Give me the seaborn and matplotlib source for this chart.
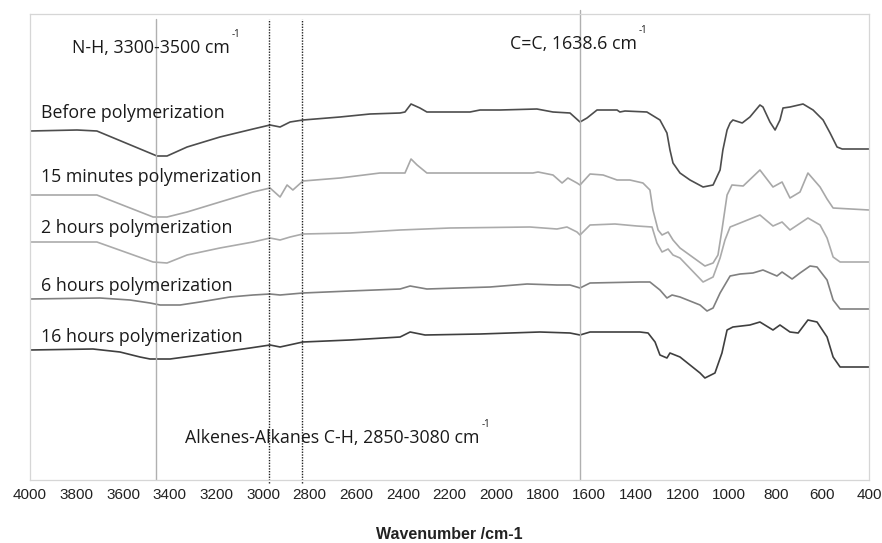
import matplotlib
matplotlib.use("Agg")
import matplotlib.pyplot as plt
import seaborn as sns
import pandas as pd

# ---------------- data ----------------
# wavenumber (cm-1) and offset transmittance (a.u.) for each spectrum
wn_before = [4000, 3798, 3713, 3455, 3412, 3326, 3185, 3043, 2970, 2927, 2884, 2829, 2670, 2541, 2412, 2391, 2365, 2327, 2297, 2112, 2069, 1983, 1825, 1756, 1683, 1640, 1610, 1567, 1481, 1469, 1447, 1353, 1297, 1267, 1254, 1241, 1211, 1168, 1112, 1069, 1039, 1027, 1009, 996, 984, 944, 911, 868, 855, 825, 803, 782, 769, 739, 683, 640, 597, 567, 537, 515, 400]
t_before = [349, 350, 349, 324, 324, 333, 343, 351, 355, 353, 358, 360, 363, 366, 367, 368, 376, 372, 368, 368, 370, 370, 371, 368, 367, 358, 362, 370, 370, 368, 369, 368, 360, 347, 330, 317, 307, 300, 293, 295, 310, 330, 350, 357, 360, 357, 363, 375, 373, 358, 350, 360, 372, 373, 376, 370, 360, 347, 333, 331, 331]

wn_15min = [4000, 3713, 3472, 3412, 3326, 3185, 3043, 2970, 2927, 2897, 2872, 2829, 2670, 2498, 2391, 2365, 2339, 2297, 1842, 1820, 1756, 1717, 1692, 1653, 1640, 1597, 1541, 1481, 1426, 1370, 1340, 1327, 1305, 1288, 1262, 1241, 1211, 1104, 1069, 1048, 1031, 1009, 988, 940, 868, 812, 773, 739, 696, 662, 610, 580, 554, 400]
t_15min = [285, 285, 263, 263, 268, 278, 288, 292, 283, 295, 290, 299, 302, 307, 307, 321, 315, 307, 307, 308, 305, 297, 302, 297, 295, 306, 305, 300, 300, 297, 290, 270, 250, 245, 248, 240, 232, 214, 217, 225, 250, 285, 295, 294, 310, 293, 298, 282, 288, 307, 293, 281, 272, 270]

wn_2h = [4000, 3713, 3472, 3412, 3326, 3185, 3043, 2970, 2927, 2884, 2829, 2627, 2412, 2198, 1855, 1739, 1696, 1653, 1640, 1597, 1490, 1396, 1331, 1310, 1288, 1262, 1241, 1211, 1112, 1069, 1039, 1018, 996, 953, 868, 812, 773, 739, 662, 610, 580, 554, 524, 400]
t_2h = [238, 238, 218, 217, 225, 232, 238, 242, 240, 243, 246, 247, 250, 252, 253, 251, 253, 248, 245, 255, 256, 254, 253, 237, 228, 231, 225, 222, 198, 203, 222, 240, 253, 257, 265, 254, 258, 250, 262, 255, 242, 223, 218, 218]

wn_6h = [4000, 3700, 3571, 3485, 3442, 3356, 3271, 3142, 3043, 2970, 2927, 2829, 2627, 2412, 2369, 2297, 2026, 1867, 1739, 1683, 1640, 1597, 1383, 1340, 1297, 1267, 1245, 1211, 1125, 1095, 1069, 1039, 996, 953, 898, 855, 795, 773, 730, 696, 653, 623, 580, 554, 524, 400]
t_6h = [181, 182, 180, 177, 175, 175, 178, 183, 185, 186, 185, 187, 189, 191, 194, 191, 193, 196, 195, 195, 192, 197, 198, 198, 190, 182, 185, 183, 175, 169, 172, 187, 204, 206, 207, 210, 204, 208, 201, 207, 214, 213, 200, 180, 171, 171]

wn_16h = [4000, 3730, 3614, 3528, 3485, 3399, 3271, 3056, 2970, 2927, 2829, 2627, 2412, 2369, 2305, 2069, 1812, 1683, 1640, 1597, 1383, 1348, 1318, 1297, 1267, 1254, 1211, 1125, 1104, 1061, 1031, 1009, 984, 911, 868, 812, 782, 739, 704, 662, 623, 580, 554, 524, 481, 400]
t_16h = [130, 131, 128, 123, 121, 121, 125, 132, 135, 133, 138, 140, 143, 148, 145, 146, 148, 147, 145, 148, 148, 147, 138, 125, 122, 127, 123, 107, 102, 107, 127, 150, 153, 155, 158, 150, 155, 148, 147, 160, 158, 143, 123, 113, 113, 113]

series_names = ["Before polymerization", "15 minutes polymerization",
                "2 hours polymerization", "6 hours polymerization",
                "16 hours polymerization"]
series_wn = [wn_before, wn_15min, wn_2h, wn_6h, wn_16h]
series_t = [t_before, t_15min, t_2h, t_6h, t_16h]
series_colors = ["#4d4d4d", "#a8a8a8", "#ababab", "#808080", "#3f3f3f"]
label_y = [362, 298, 247, 189, 138]

x_ticks = list(range(4000, 399, -200))
nh_line = 3460
cc_line = 1638.6
ch_lines = [2975, 2833]

# ---------------- figure ----------------
sns.set_style("white")
plt.rcParams["font.family"] = ["Open Sans", "DejaVu Sans"]

fig = plt.figure(figsize=(8.82, 5.43), dpi=100)
ax = fig.add_axes([30 / 882, 1 - 480 / 543, 839 / 882, 466 / 543])

frames = []
for name, w, t in zip(series_names, series_wn, series_t):
    frames.append(pd.DataFrame({"wn": w, "t": t, "series": name}))
df = pd.concat(frames, ignore_index=True)

sns.lineplot(data=df, x="wn", y="t", hue="series", hue_order=series_names,
             palette=dict(zip(series_names, series_colors)), sort=False,
             estimator=None, linewidth=1.2, legend=False, ax=ax)

ax.set_xlim(4000, 400)
ax.set_ylim(0, 466)
ax.set_xticks(x_ticks)
ax.set_xticklabels([str(v) for v in x_ticks], family="Liberation Sans",
                   fontsize=11, color="#222222")
ax.set_yticks([])
ax.tick_params(axis="x", length=0, pad=6)
ax.set_ylabel("")
ax.set_xlabel("Wavenumber /cm-1", family="Liberation Sans", fontsize=11.5,
              fontweight="bold", labelpad=18, color="#222222")
for sp in ax.spines.values():
    sp.set_color("#d6d6d6")
    sp.set_linewidth(0.9)

# reference lines
ax.axvline(nh_line, ymin=0, ymax=(480 - 19) / 466, color="#b0b0b0", lw=1.0)
ax.axvline(cc_line, ymin=0, ymax=(480 - 10) / 466, color="#b0b0b0", lw=1.0,
           clip_on=False)
for xv in ch_lines:
    ax.axvline(xv, ymin=-3 / 466, ymax=(480 - 19) / 466, color="#222222",
               lw=1.0, ls=(0, (1, 1)), clip_on=False)

# labels
txt_kw = dict(fontsize=12.8, color="#1a1a1a", va="baseline", ha="left")
for name, yv in zip(series_names, label_y):
    ax.text(3953, yv, name, **txt_kw)


def sup_label(x, y, s):
    t = ax.text(x, y, s, **txt_kw)
    ax.annotate("-1", xy=(1, 1), xycoords=t, xytext=(1.5, -1),
                textcoords="offset points", fontsize=7, color="#1a1a1a",
                va="bottom", ha="left")


sup_label(3820, 427, "N-H, 3300-3500 cm")
sup_label(1940, 431, "C=C, 1638.6 cm")
sup_label(3335, 37, "Alkenes-Alkanes C-H, 2850-3080 cm")

fig.savefig("out.png", dpi=100)
